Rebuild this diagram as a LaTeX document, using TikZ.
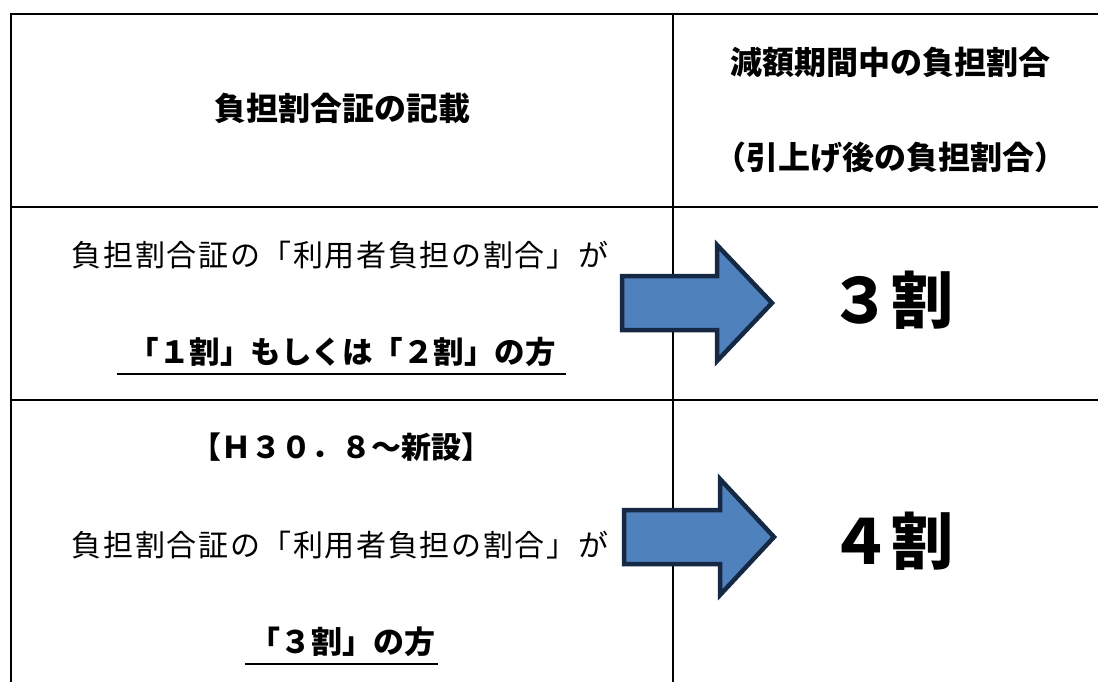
\documentclass[tikz,border=0pt]{standalone}
\usepackage{fontspec}
\newfontfamily\jp[Kerning=Off]{Noto Sans CJK JP}
\newfontfamily\jpw[Kerning=Off,LetterSpace=5.5]{Noto Sans CJK JP}
\definecolor{arrfill}{RGB}{79,129,189}
\definecolor{arrline}{RGB}{22,41,68}
\begin{document}
\begin{tikzpicture}[x=1pt,y=-1pt,
  grid/.style={line width=2pt,black},
  txt/.style={inner sep=0pt,anchor=center,font=\jp},
  bigarrow/.style={fill=arrfill,draw=arrline,line width=4.5pt,line join=miter},
  uline/.style={line width=2pt,black}]
\useasboundingbox (0,0) rectangle (1098,682);
% table grid
\draw[grid] (1098,14) -- (11,14) -- (11,682);
\draw[grid] (11,207) -- (1098,207);
\draw[grid] (11,400) -- (1098,400);
\draw[grid] (673,14) -- (673,682);
% header
\node[txt,font=\jp\fontsize{32}{38}\selectfont\bfseries] (h1) at (342,108) {負担割合証の記載};
\node[txt,font=\jp\fontsize{32}{38}\selectfont\bfseries] (h2a) at (890,62) {減額期間中の負担割合};
\node[txt,font=\jp\fontsize{32}{38}\selectfont\bfseries] (h2b) at (890,157) {（引上げ後の負担割合）};
% row 2
\node[txt,font=\jpw\fontsize{30}{36}\selectfont] (r1a) at (340,255) {負担割合証の「利用者負担の割合」が};
\node[txt,font=\jp\fontsize{30.5}{36}\selectfont\bfseries] (r1b) at (342,352) {「１割」もしくは「２割」の方};
\draw[uline] (117,374) -- (566,374);
\node[txt,font=\jp\fontsize{62}{70}\selectfont\bfseries] (v1) at (891,300) {３割};
% row 3
\node[txt,font=\jp\fontsize{30}{35}\selectfont\bfseries] (r2a) at (341,447) {【Ｈ３０．８～新設】};
\node[txt,font=\jpw\fontsize{30}{36}\selectfont] (r2b) at (340,545) {負担割合証の「利用者負担の割合」が};
\node[txt,font=\jp\fontsize{31}{36}\selectfont\bfseries] (r2c) at (342,642) {「３割」の方};
\draw[uline] (245,664) -- (438,664);
\node[txt,font=\jp\fontsize{62}{70}\selectfont\bfseries] (v2) at (891,541) {４割};
% arrows
\draw[bigarrow] (622,276) -- (717,276) -- (717,245) -- (772,303) -- (717,361) -- (717,330) -- (622,330) -- cycle;
\draw[bigarrow] (624,510) -- (720,510) -- (720,479) -- (774,537) -- (720,595) -- (720,564) -- (624,564) -- cycle;
\end{tikzpicture}
\end{document}
